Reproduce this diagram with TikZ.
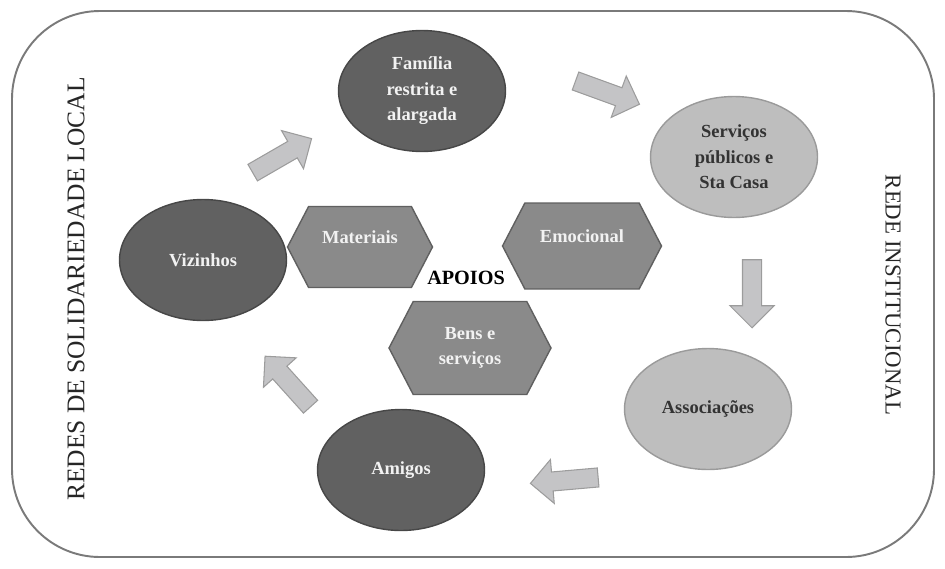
\documentclass[tikz,border=0pt]{standalone}
\usepackage{fontspec}
\setmainfont{Liberation Serif}
\usetikzlibrary{shapes.geometric,shapes.symbols,shapes.arrows}
\definecolor{darkfill}{HTML}{616161}
\definecolor{darkline}{HTML}{474747}
\definecolor{lightfill}{HTML}{BEBEBE}
\definecolor{lightline}{HTML}{9A9A9A}
\definecolor{hexfill}{HTML}{8A8A8A}
\definecolor{hexline}{HTML}{606060}
\definecolor{arrfill}{HTML}{C4C4C6}
\definecolor{arrline}{HTML}{9C9C9C}
\definecolor{frameline}{HTML}{7A7A7A}
\definecolor{lighttext}{HTML}{F2F2F2}
\definecolor{darktext}{HTML}{333333}
\begin{document}
\begin{tikzpicture}[x=0.02cm,y=-0.02cm,
    txt/.style={font=\bfseries\fontsize{10.5}{14.5}\selectfont, align=center},
    darkell/.style={txt, ellipse, fill=darkfill, draw=darkline, line width=0.8pt,
      text=lighttext, minimum width=3.34cm, minimum height=2.42cm, inner sep=0pt},
    lightell/.style={darkell, fill=lightfill, draw=lightline, text=darktext},
    hexbox/.style={txt, signal, signal to=west and east, signal pointer angle=125,
      fill=hexfill, draw=hexline, line width=0.8pt, text=lighttext, inner sep=0pt},
    hexup/.style={text height=8pt, text depth=12.4pt},
    blockarrow/.style={single arrow, fill=arrfill, draw=arrline, line width=0.6pt,
      minimum height=1.36cm, minimum width=0.86cm, single arrow head extend=0.25cm,
      inner xsep=0pt, inner ysep=0.18cm},
    sidetxt/.style={text=black!85}]
  \useasboundingbox (0,0) rectangle (945,568);
  % Frame
  \draw[frameline, line width=1.1pt, rounded corners=1.76cm] (12,11) rectangle (934,557);
  % Side labels
  \node[sidetxt, rotate=90, font=\fontsize{14.5}{16}\selectfont] (local) at (76,289) {REDES DE SOLIDARIEDADE LOCAL};
  \node[sidetxt, rotate=-90, font=\fontsize{13}{15}\selectfont] (inst) at (893,295) {REDE INSTITUCIONAL};
  % Ellipses
  \node[darkell] (familia) at (422,91) {Família\\restrita e\\alargada};
  \node[lightell] (servicos) at (734,157) {Serviços\\públicos e\\Sta Casa};
  \node[lightell] (assoc) at (708,409) {Associações};
  \node[darkell] (amigos) at (401,470) {Amigos};
  \node[darkell] (vizinhos) at (203,260) {Vizinhos};
  % Arrows
  \node[blockarrow, rotate=30] (a1) at (278,158) {};
  \node[blockarrow, rotate=-20] (a2) at (603,91) {};
  \node[blockarrow, rotate=-90] (a3) at (752,289) {};
  \node[blockarrow, rotate=185] (a4) at (569,480) {};
  \node[blockarrow, rotate=132] (a5) at (291,385) {};
  % Supports
  \node[hexbox, hexup, minimum width=2.9cm, minimum height=1.62cm] (mat) at (360,247) {Materiais};
  \node[hexbox, hexup, minimum width=3.18cm, minimum height=1.72cm] (emo) at (582,246) {Emocional};
  \node[hexbox, minimum width=3.24cm, minimum height=1.86cm] (bens) at (470,348) {Bens e\\serviços};
  \node[font=\bfseries\fontsize{11.5}{13}\selectfont] (apoios) at (466,278) {APOIOS};
\end{tikzpicture}
\end{document}
